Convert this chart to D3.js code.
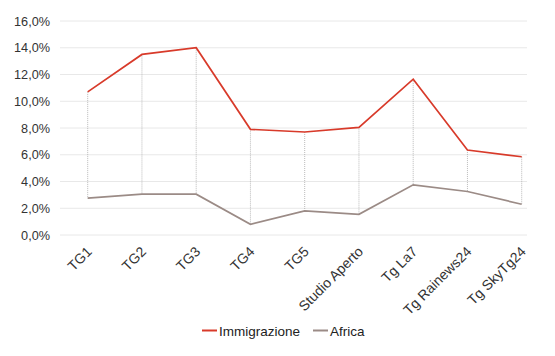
<!DOCTYPE html>
<html><head><meta charset="utf-8">
<script src="https://cdn.jsdelivr.net/npm/d3@7"></script>
<style>
html,body{margin:0;padding:0;background:#fff;}
svg text{font-family:"Liberation Sans",Arial,Helvetica,sans-serif;}
</style></head>
<body><svg id="c" width="555" height="356"></svg>
<script>
const categories = ["TG1","TG2","TG3","TG4","TG5","Studio Aperto","Tg La7","Tg Rainews24","Tg SkyTg24"];
const immigrazione = [10.7, 13.5, 14.0, 7.9, 7.7, 8.05, 11.65, 6.35, 5.85];
const africa = [2.75, 3.05, 3.05, 0.8, 1.8, 1.55, 3.75, 3.25, 2.3];
const yTicks = [0,2,4,6,8,10,12,14,16];
const seriesNames = ["Immigrazione","Africa"];
const colors = ["#d83a2a","#9b8b86"];

const svg = d3.select("#c");
const x = d3.scalePoint().domain(categories).range([87.7, 521.7]);
const y = d3.scaleLinear().domain([0,16]).range([235, 21]);
const fmt = v => d3.format(".1f")(v).replace(".", ",") + "%";

// grid
const yAxis = d3.axisLeft(y).tickValues(yTicks).tickFormat(fmt).tickSize(0).tickPadding(0);
const gy = svg.append("g").attr("transform","translate(50,0)").call(yAxis);
gy.select(".domain").remove();
gy.selectAll("text").attr("fill","#333").attr("font-size","12.7px").attr("x",0);
svg.append("g").selectAll("line").data(yTicks).join("line")
  .attr("x1",60).attr("x2",527).attr("y1",d=>y(d)).attr("y2",d=>y(d))
  .attr("stroke","#e8e8e8").attr("stroke-width",1);

// drop lines
svg.append("g").selectAll("line").data(categories).join("line")
  .attr("x1",d=>x(d)).attr("x2",d=>x(d))
  .attr("y1",(d,i)=>y(immigrazione[i])).attr("y2",(d,i)=>y(africa[i]))
  .attr("stroke","#a9a9a9").attr("stroke-width",0.8).attr("stroke-dasharray","1,1");

// x axis labels
const xAxis = d3.axisBottom(x).tickSize(0).tickPadding(0);
const gx = svg.append("g").attr("transform","translate(0,243)").call(xAxis);
gx.select(".domain").remove();
gx.selectAll("text").attr("fill","#333").attr("font-size","14px")
  .attr("text-anchor","end").attr("dy","0.35em")
  .attr("transform","translate(1,6) rotate(-45)");

// lines
const line = d3.line().x((d,i)=>x(categories[i])).y(d=>y(d));
[immigrazione, africa].forEach((s,k)=>{
  svg.append("path").attr("d", line(s)).attr("fill","none")
    .attr("stroke", colors[k]).attr("stroke-width",1.7).attr("stroke-linejoin","miter");
});

// legend
const leg = [{x:202,name:seriesNames[0],c:colors[0]},{x:313,name:seriesNames[1],c:colors[1]}];
leg.forEach(l=>{
  svg.append("line").attr("x1",l.x).attr("x2",l.x+15).attr("y1",330.5).attr("y2",330.5)
    .attr("stroke",l.c).attr("stroke-width",2);
  svg.append("text").attr("x",l.x+17).attr("y",335.5).attr("font-size","13.5px").attr("fill","#222").text(l.name);
});
</script></body></html>
